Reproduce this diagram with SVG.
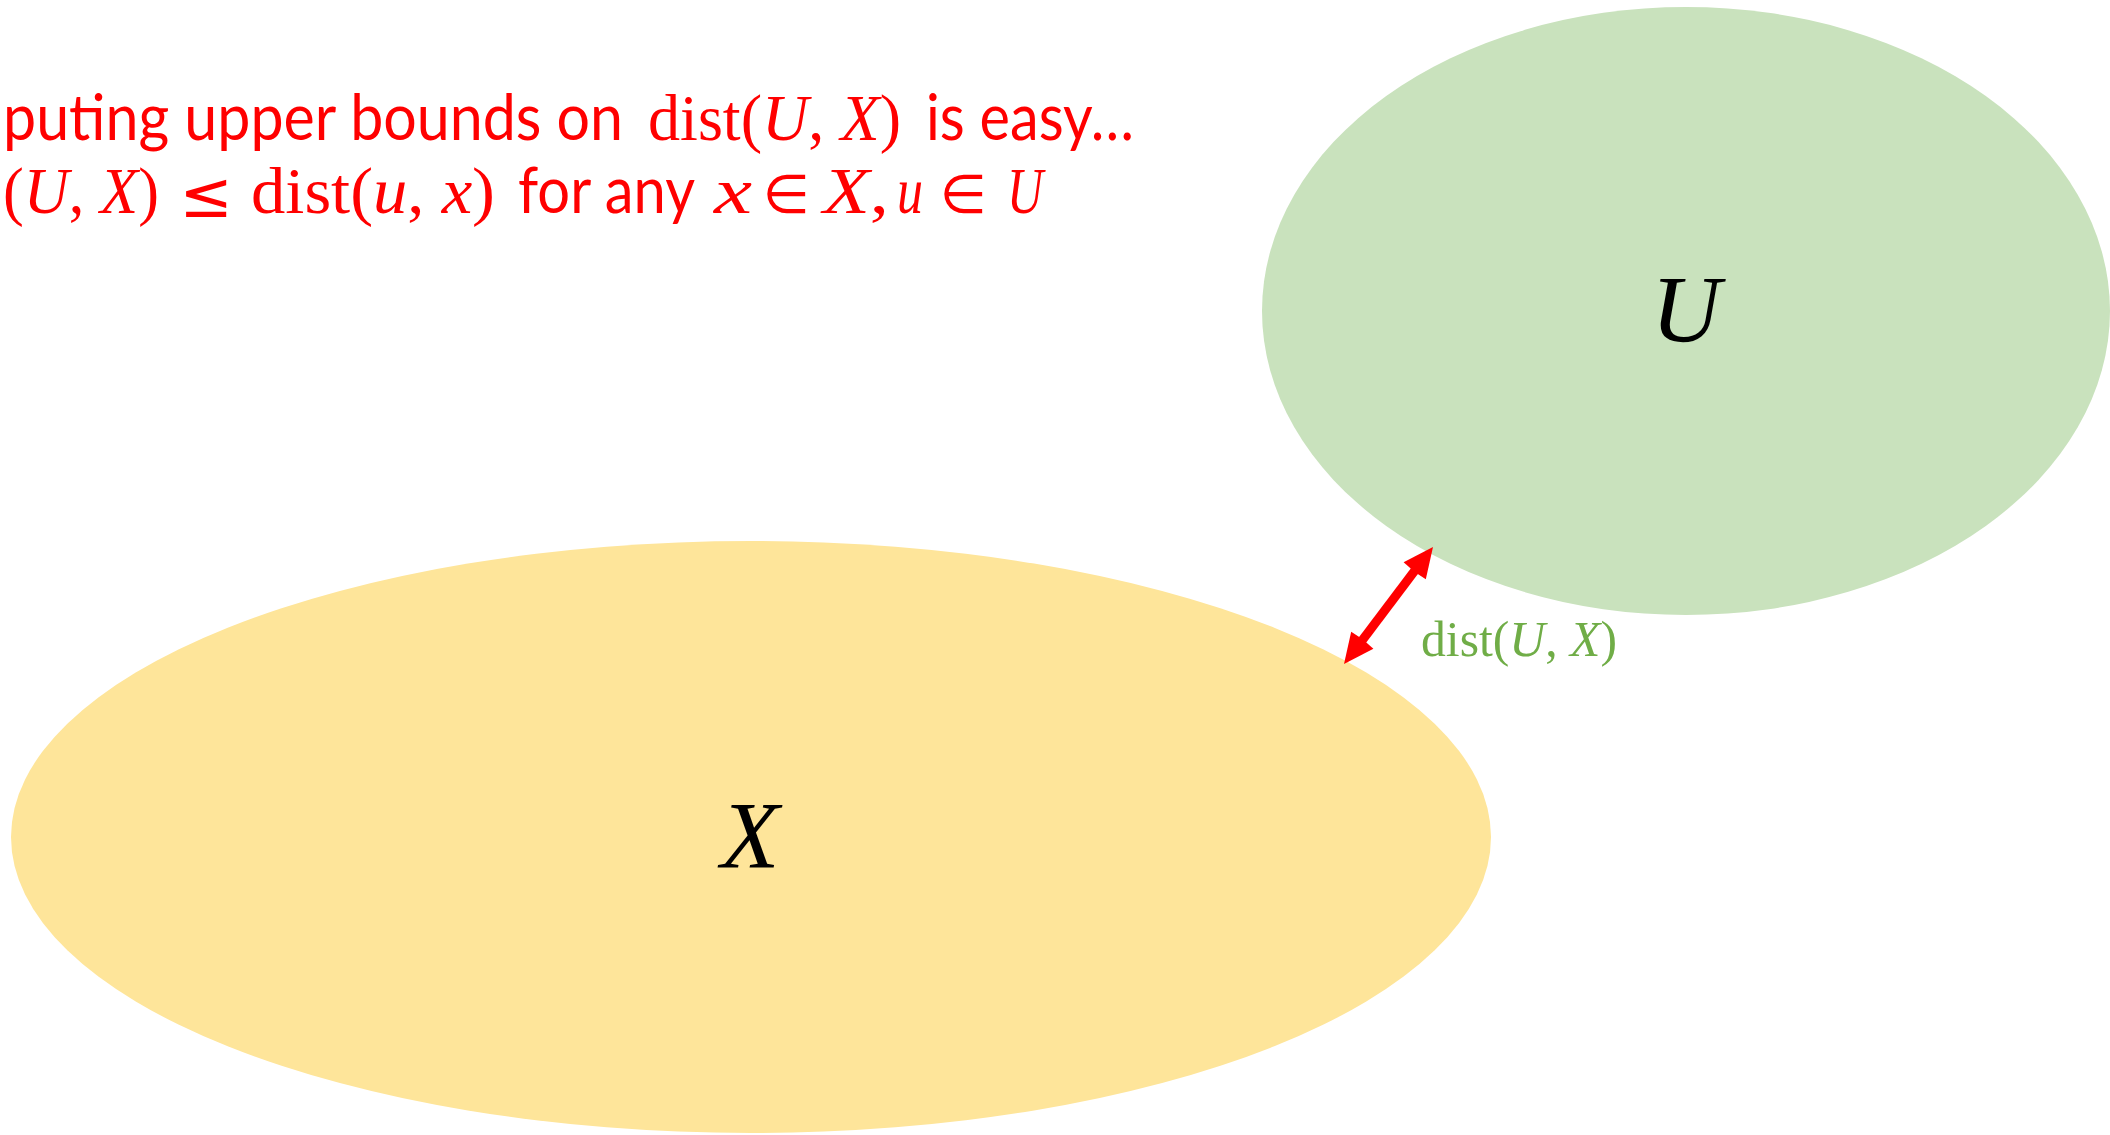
<svg xmlns="http://www.w3.org/2000/svg" width="2110" height="1135" viewBox="0 0 2110 1135">
<style>
.t{font-family:Lato,"Liberation Sans",sans-serif;font-size:64px;fill:#FF0000}
.m{font-family:"Liberation Serif","DejaVu Serif",serif;font-size:66px;fill:#FF0000}
.s{font-family:"DejaVu Sans",sans-serif;fill:#FF0000;text-anchor:middle}
.i{font-style:italic}
.big{font-family:"Liberation Serif","DejaVu Serif",serif;font-style:italic;font-size:96px;fill:#000000;text-anchor:middle}
.g{font-family:"Liberation Serif","DejaVu Serif",serif;font-size:50px;fill:#70AD47}
</style>
<rect width="2110" height="1135" fill="#FFFFFF"/>
<g id="node-X">
<ellipse cx="751" cy="837" rx="740" ry="296" fill="#FEE59A"/>
<text class="big" x="750" y="868">X</text>
</g>
<g id="node-U">
<ellipse cx="1686" cy="311" rx="424" ry="304" fill="#C9E2BD"/>
<text class="big" x="1686" y="342">U</text>
</g>
<g id="connectors">
<line x1="1362.3" y1="640.2" x2="1414.7" y2="570.8" stroke="#FF0000" stroke-width="9"/>
<polygon points="1433,547 1425.8,579.3 1414.7,572 1403.6,562.3" fill="#FF0000"/>
<polygon points="1344,664 1351.2,631.7 1362.3,639 1373.4,648.7" fill="#FF0000"/>
</g>
<g id="label-dist">
<text class="g" x="1421" y="656" textLength="196" lengthAdjust="spacingAndGlyphs">dist(<tspan class="i">U</tspan>, <tspan class="i">X</tspan>)</text>
</g>
<g id="caption">
<text class="t" x="3" y="140" font-size="62" textLength="620" lengthAdjust="spacingAndGlyphs">puting upper bounds on</text>
<text class="m" x="648" y="140" textLength="253" lengthAdjust="spacingAndGlyphs">dist(<tspan class="i">U</tspan>, <tspan class="i">X</tspan>)</text>
<text class="t" x="926" y="140" textLength="208" lengthAdjust="spacingAndGlyphs">is easy…</text>

<text class="m" x="3" y="213" textLength="156" lengthAdjust="spacingAndGlyphs">(<tspan class="i">U</tspan>, <tspan class="i">X</tspan>)</text>
<text class="s" x="206" y="217" font-size="64">≤</text>
<text class="m" x="251" y="213" textLength="244" lengthAdjust="spacingAndGlyphs">dist(<tspan class="i">u</tspan>, <tspan class="i">x</tspan>)</text>
<text class="t" x="518" y="213" textLength="177" lengthAdjust="spacingAndGlyphs">for any</text>
<text class="m i" x="714" y="213" textLength="38" lengthAdjust="spacingAndGlyphs">x</text>
<text class="s" x="786" y="213" font-size="54">∈</text>
<text class="m" x="823" y="213" textLength="66" lengthAdjust="spacingAndGlyphs"><tspan class="i">X</tspan>,</text>
<text class="m i" x="897" y="213" textLength="26" lengthAdjust="spacingAndGlyphs">u</text>
<text class="s" x="963" y="213" font-size="54">∈</text>
<text class="m i" x="1007" y="213" textLength="36" lengthAdjust="spacingAndGlyphs">U</text>
</g>
</svg>
